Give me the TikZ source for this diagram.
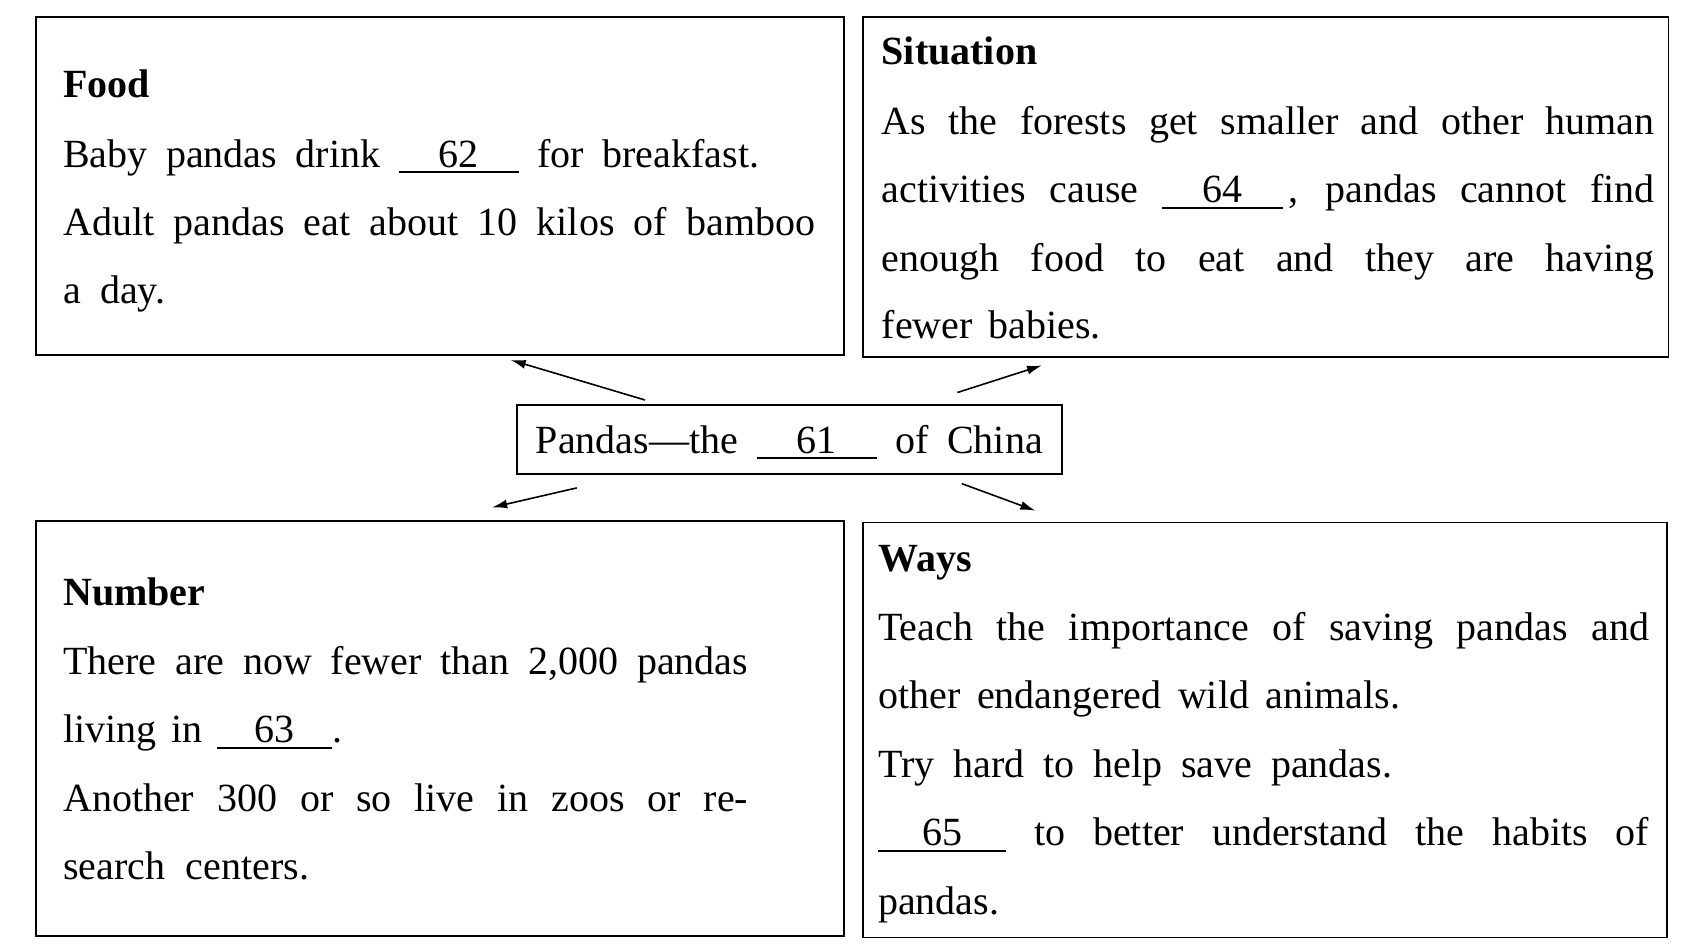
\documentclass[tikz,border=0pt]{standalone}
\usepackage{fontspec}
\setmainfont{Liberation Serif}
\usetikzlibrary{arrows.meta}
\newcommand{\blankno}[2]{\rlap{\rule[-6pt]{#1}{1.6pt}}\makebox[#1]{#2}}
\newcommand{\jline}[2]{\makebox[#1][s]{#2}}
\tikzset{
  box/.style={draw, line width=1.8pt, anchor=north west, inner sep=0pt},
  txt/.style={anchor=base west, inner sep=0pt, font=\fontsize{40}{48}\selectfont},
  ttl/.style={anchor=base west, inner sep=0pt, font=\fontsize{40}{48}\selectfont\bfseries},
  conn/.style={line width=1.6pt, -{Latex[length=15pt,width=9pt]}}
}
\begin{document}
\begin{tikzpicture}[x=1pt,y=-1pt]
\useasboundingbox (0,0) rectangle (1700,950);
% boxes
\node[box, minimum width=808pt, minimum height=338pt] (food) at (34.7,16.3) {};
\node[box, minimum width=805.5pt, minimum height=340pt] (sit) at (862,16.3) {};
\node[box, minimum width=545.4pt, minimum height=68.3pt] (center) at (516,404.4) {};
\node[box, minimum width=808pt, minimum height=415pt] (num) at (34.7,520.4) {};
\node[box, minimum width=804.4pt, minimum height=415pt] (ways) at (862,521.5) {};
% Food
\node[ttl] (foodT) at (63,97) {Food};
\node[txt] (food1) at (63,167) {\jline{696pt}{Baby pandas drink \blankno{120pt}{62} for breakfast.}};
\node[txt] (food2) at (63,235) {\jline{752pt}{Adult pandas eat about 10 kilos of bamboo}};
\node[txt] (food3) at (63,303) {\jline{102pt}{a day.}};
% Situation
\node[ttl] (sitT) at (881.5,64) {Situation};
\node[txt] (sit1) at (881.5,134) {\jline{773pt}{As the forests get smaller and other human}};
\node[txt] (sit2) at (881.5,202.5) {\jline{773pt}{activities cause \blankno{121pt}{64}\hspace{6pt}, pandas cannot find}};
\node[txt] (sit3) at (881.5,271) {\jline{773pt}{enough food to eat and they are having}};
\node[txt] (sit4) at (881.5,338) {\jline{219pt}{fewer babies.}};
% Center
\node[txt] (centerT) at (535.6,453) {\jline{507pt}{Pandas---the \blankno{120pt}{61} of China}};
% Number
\node[ttl] (numT) at (63,605) {Number};
\node[txt] (num1) at (63,674) {\jline{685pt}{There are now fewer than 2,000 pandas}};
\node[txt] (num2) at (63,742.5) {\jline{279pt}{living in \blankno{115pt}{63}.}};
\node[txt] (num3) at (63,811) {\jline{685pt}{Another 300 or so live in zoos or re-}};
\node[txt] (num4) at (63,879) {\jline{246pt}{search centers.}};
% Ways
\node[ttl] (waysT) at (878,571) {Ways};
\node[txt] (ways1) at (878,640.5) {\jline{771pt}{Teach the importance of saving pandas and}};
\node[txt] (ways2) at (878,708) {\jline{522pt}{other endangered wild animals.}};
\node[txt] (ways3) at (878,777) {\jline{514pt}{Try hard to help save pandas.}};
\node[txt] (ways4) at (878,845.5) {\jline{771pt}{\blankno{128pt}{65} to better understand the habits of}};
\node[txt] (ways5) at (878,914) {pandas.};
% arrows
\coordinate (aF1) at (645,400);   \coordinate (aF2) at (510.7,360);
\coordinate (aS1) at (957.4,392.5); \coordinate (aS2) at (1042,365.4);
\coordinate (aN1) at (576.8,487.9); \coordinate (aN2) at (492.2,507.4);
\coordinate (aW1) at (961.7,483.6); \coordinate (aW2) at (1035.4,510.7);
\draw[conn] (aF1) -- (aF2);
\draw[conn] (aS1) -- (aS2);
\draw[conn] (aN1) -- (aN2);
\draw[conn] (aW1) -- (aW2);
\end{tikzpicture}
\end{document}
